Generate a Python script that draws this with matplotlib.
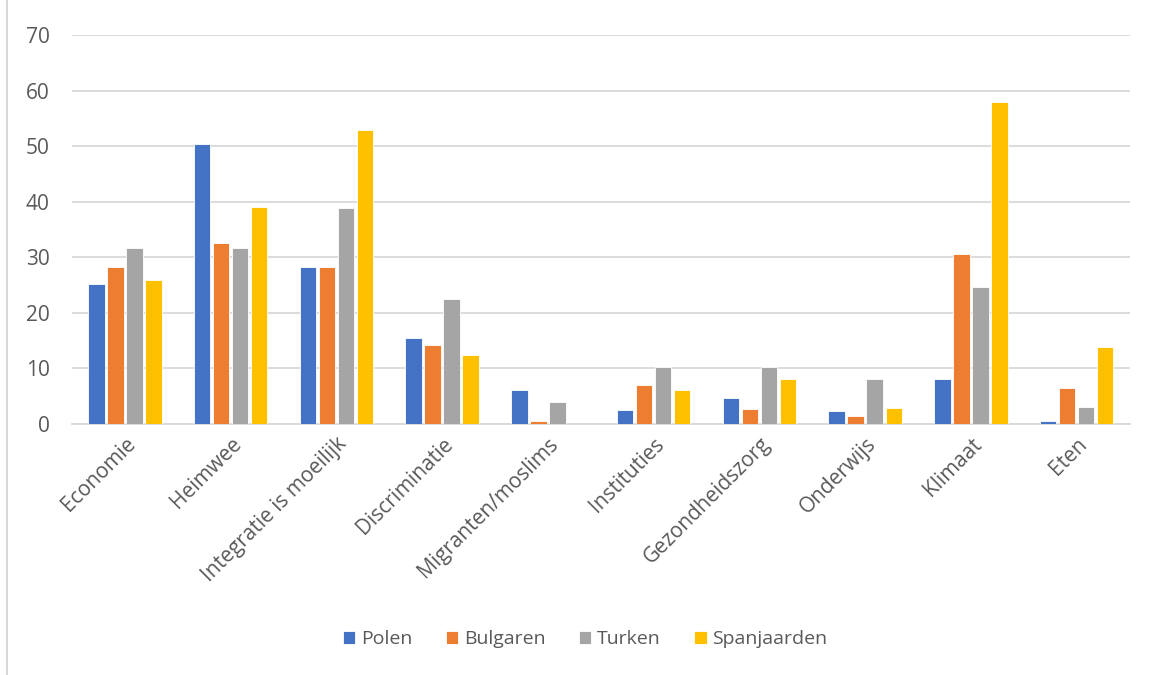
import matplotlib
matplotlib.use("Agg")
import matplotlib.pyplot as plt
import numpy as np

categories = ["Economie", "Heimwee", "Integratie is moeilijk", "Discriminatie",
              "Migranten/moslims", "Instituties", "Gezondheidszorg", "Onderwijs",
              "Klimaat", "Eten"]
polen = [25.1, 50.4, 28.2, 15.4, 6.1, 2.5, 4.6, 2.3, 8.1, 0.6]
bulgaren = [28.3, 32.6, 28.3, 14.2, 0.6, 7.0, 2.7, 1.4, 30.5, 6.4]
turken = [31.6, 31.6, 38.8, 22.4, 4.0, 10.2, 10.2, 8.1, 24.6, 3.1]
spanjaarden = [25.9, 39.1, 52.9, 12.4, 0.0, 6.1, 8.0, 2.9, 58.0, 13.9]

series = [("Polen", polen, "#4472C4"), ("Bulgaren", bulgaren, "#ED7D31"),
          ("Turken", turken, "#A5A5A5"), ("Spanjaarden", spanjaarden, "#FFC000")]

plt.rcParams['font.family'] = ['Open Sans', 'DejaVu Sans']
fig = plt.figure(figsize=(11.52, 6.75), dpi=100)
ax = fig.add_axes([0.0625, 0.372, 0.918, 0.576])

x = np.arange(len(categories))
step = 0.18
width = 0.155
for i, (name, vals, col) in enumerate(series):
    ax.bar(x + (i - 1.5) * step, vals, width, color=col, label=name,
           edgecolor="white", linewidth=0.6, zorder=3)

ax.set_xlim(-0.5, len(categories) - 0.5)
ax.set_ylim(0, 70)
ax.set_yticks(range(0, 71, 10))
ax.yaxis.grid(True, color="#d9d9d9", linewidth=1.3, zorder=0)
for s in ["top", "right", "left"]:
    ax.spines[s].set_visible(False)
ax.spines["bottom"].set_color("#d9d9d9")
ax.spines["bottom"].set_linewidth(1.3)
ax.tick_params(axis="both", length=0, colors="#595959")
ax.tick_params(axis="y", labelsize=15, pad=16)
ax.tick_params(axis="x", labelsize=15, pad=7)
ax.set_xticks(x)
ax.set_xticklabels(categories, rotation=45, ha="right", rotation_mode="anchor")

ax.legend(loc="center", bbox_to_anchor=(0.508, 0.053), bbox_transform=fig.transFigure,
          ncol=4, frameon=False, fontsize=14, labelcolor="#595959",
          handlelength=0.65, handleheight=0.65, handletextpad=0.3, columnspacing=1.7)

# left border of the chart frame
fig.add_artist(plt.Line2D([0.0065, 0.0065], [0, 1], transform=fig.transFigure,
                          color="#d9d9d9", linewidth=1.5))

plt.savefig("out.png", dpi=100)
